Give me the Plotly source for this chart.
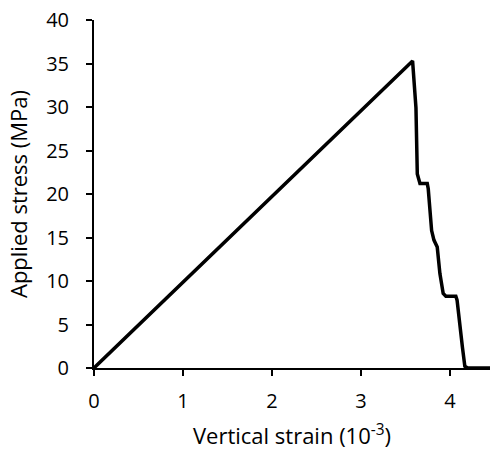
import plotly.graph_objects as go

strain = [0.0, 3.58, 3.618, 3.633, 3.663, 3.745, 3.756, 3.794, 3.82, 3.857, 3.887, 3.924, 3.954, 4.066, 4.08, 4.11, 4.14, 4.167, 4.2, 4.45]
stress = [0.0, 35.3, 29.9, 22.3, 21.2, 21.2, 20.6, 15.8, 14.7, 13.9, 10.85, 8.56, 8.25, 8.25, 7.8, 4.7, 2.4, 0.2, 0.0, 0.0]

x_ticks = [0, 1, 2, 3, 4]
y_ticks = [0, 5, 10, 15, 20, 25, 30, 35, 40]

font_family = "Open Sans, Liberation Sans, sans-serif"

fig = go.Figure()
fig.add_trace(go.Scatter(x=strain, y=stress, mode="lines",
                         line=dict(color="black", width=3.5), showlegend=False,
                         cliponaxis=False, hoverinfo="skip"))

fig.update_layout(
    width=491, height=452,
    margin=dict(l=93.5, r=1, t=19.5, b=83.7),
    paper_bgcolor="white", plot_bgcolor="white",
    font=dict(family=font_family, color="black", size=20),
)
fig.update_xaxes(
    range=[0, 4.45], tickvals=x_ticks, ticks="outside", ticklen=6, tickwidth=1.5,
    tickcolor="black", showline=True, linecolor="black", linewidth=2,
    showgrid=False, zeroline=False, tickfont=dict(size=20), automargin=False,
    ticklabelstandoff=8,
    title=dict(text="Vertical strain (10<sup>-3</sup>)", font=dict(size=22), standoff=16),
)
fig.update_yaxes(
    range=[0, 40], tickvals=y_ticks, ticks="outside", ticklen=6, tickwidth=1.5,
    tickcolor="black", showline=True, linecolor="black", linewidth=2,
    showgrid=False, zeroline=False, tickfont=dict(size=20), automargin=False,
    ticklabelstandoff=13,
    title=dict(text="Applied stress (MPa)", font=dict(size=22), standoff=12),
)

fig.write_html("out.html",
               config={"displayModeBar": False},
               post_script="document.body.style.margin='0';document.body.style.overflow='hidden';")
